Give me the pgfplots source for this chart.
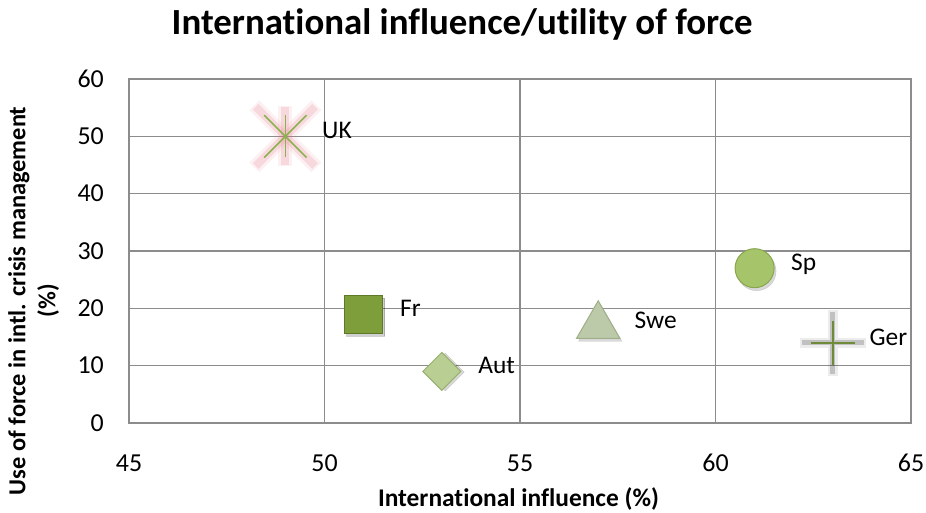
\documentclass[border=0pt]{standalone}
\usepackage{fontspec}
\setmainfont{Carlito}[Ligatures=NoCommon]
\usepackage{pgfplots}
\pgfplotsset{compat=1.18}
\definecolor{gridgray}{HTML}{8C8C8C}
\definecolor{pinkglow}{HTML}{E0707C}
\definecolor{ukgreen}{HTML}{8DB050}
\definecolor{frfill}{HTML}{7E9E3C}
\definecolor{frdraw}{HTML}{5E7A28}
\definecolor{autfill}{HTML}{B8CE92}
\definecolor{autdraw}{HTML}{98B070}
\definecolor{swefill}{HTML}{BDCAAA}
\definecolor{swedraw}{HTML}{9EAE88}
\definecolor{spfill}{HTML}{A6C46A}
\definecolor{spdraw}{HTML}{88A64E}
\definecolor{gerglow}{HTML}{404040}
\definecolor{gergreen}{HTML}{6F8A38}
\begin{document}
\begin{tikzpicture}[x=1bp,y=1bp]
\path[use as bounding box] (-129,-90) rectangle (797,423);
\begin{axis}[
  at={(0,0)}, anchor=south west,
  scale only axis, width=782bp, height=344bp,
  xmin=45, xmax=65, ymin=0, ymax=60,
  xtick={45,50,55,60,65}, ytick={0,10,20,30,40,50,60},
  grid=major, major grid style={gridgray, line width=1.2bp},
  axis line style={gridgray, line width=1.2bp},
  major tick length=0pt,
  /pgf/number format/assume math mode=true,
  tick label style={font=\fontsize{26}{30}\selectfont, inner sep=0pt},
  xticklabel style={anchor=center, yshift=-40bp},
  yticklabel style={anchor=east, xshift=-25bp},
  title={International influence/utility of force},
  title style={font=\bfseries\fontsize{37}{40}\selectfont, at={(axis description cs:0.426,1.113)}, anchor=base, inner sep=0pt},
  xlabel={International influence (\%)},
  xlabel style={font=\bfseries\fontsize{25.5}{30}\selectfont, at={(axis description cs:0.498,-0.244)}, anchor=base, inner sep=0pt},
  ylabel={Use of force in intl. crisis management\\(\%)},
  ylabel style={font=\bfseries\fontsize{24.5}{30}\selectfont, align=center, at={(axis description cs:-0.122,0.355)}, anchor=center, inner sep=0pt},
  nodes near coords style={font=\fontsize{25.5}{30}\selectfont, anchor=mid west, inner sep=0pt, xshift=36bp, opacity=1},
  clip=false,
]
% UK: star with pink glow
\addplot[only marks, mark=x, mark options={draw=pinkglow, line width=14bp, opacity=0.1}, mark size=44bp] coordinates {(49,50)};
\addplot[only marks, mark=|, mark options={draw=pinkglow, line width=14bp, opacity=0.1}, mark size=30bp] coordinates {(49,50)};
\addplot[only marks, mark=x, mark options={draw=pinkglow, line width=8bp, opacity=0.18}, mark size=42bp] coordinates {(49,50)};
\addplot[only marks, mark=|, mark options={draw=pinkglow, line width=8bp, opacity=0.18}, mark size=29bp] coordinates {(49,50)};
\addplot[only marks, mark=x, mark options={draw=ukgreen, line width=1.6bp}, mark size=30bp] coordinates {(49,50)};
\addplot[only marks, mark=|, mark options={draw=ukgreen, line width=1.6bp}, mark size=21bp, nodes near coords={UK}] coordinates {(49,50)};
% Fr: square
\addplot[only marks, mark=square*, mark options={fill=black, draw=none, opacity=0.18, xshift=2bp, yshift=-3bp}, mark size=19bp] coordinates {(51,19)};
\addplot[only marks, mark=square*, mark options={fill=frfill, draw=frdraw, line width=1bp}, mark size=19bp, nodes near coords={Fr}] coordinates {(51,19)};
% Aut: diamond
\addplot[only marks, mark=square*, mark options={fill=black, draw=none, opacity=0.15, rotate=45, xshift=2bp, yshift=-3bp}, mark size=13.4bp] coordinates {(53,9)};
\addplot[only marks, mark=square*, mark options={fill=autfill, draw=autdraw, line width=1bp, rotate=45}, mark size=13.4bp, nodes near coords={Aut}] coordinates {(53,9)};
% Swe: triangle
\addplot[only marks, mark=triangle*, mark options={fill=black, draw=none, opacity=0.15, xshift=2bp, yshift=-9bp}, mark size=25bp] coordinates {(57,18)};
\addplot[only marks, mark=triangle*, mark options={fill=swefill, draw=swedraw, line width=1bp, yshift=-6bp}, mark size=25bp, nodes near coords={Swe}] coordinates {(57,18)};
% Sp: circle
\addplot[only marks, mark=*, mark options={fill=black, draw=none, opacity=0.15, xshift=2bp, yshift=-3bp}, mark size=19.5bp] coordinates {(61,27)};
\addplot[only marks, mark=*, mark options={fill=spfill, draw=spdraw, line width=1bp}, mark size=19.5bp, nodes near coords={Sp}] coordinates {(61,27)};
% Ger: plus with dark glow
\addplot[only marks, mark=+, mark options={draw=gerglow, line width=10bp, opacity=0.1}, mark size=33bp] coordinates {(63,14)};
\addplot[only marks, mark=+, mark options={draw=gerglow, line width=5bp, opacity=0.25}, mark size=31bp] coordinates {(63,14)};
\addplot[only marks, mark=+, mark options={draw=gergreen, line width=1.6bp}, mark size=22bp, nodes near coords={Ger}] coordinates {(63,14)};
\end{axis}
\end{tikzpicture}
\end{document}
